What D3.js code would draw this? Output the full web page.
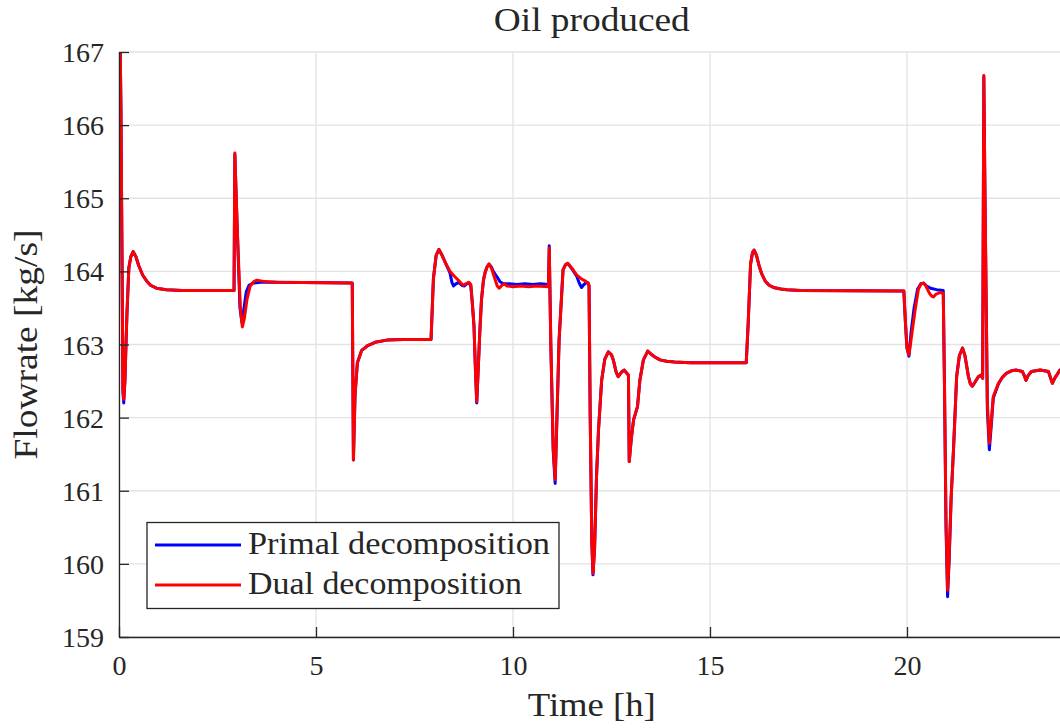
<!DOCTYPE html>
<html>
<head>
<meta charset="utf-8">
<script src="https://cdn.jsdelivr.net/npm/d3@7"></script>
<style>
  html, body { margin: 0; padding: 0; background: #fff; }
  svg text { font-family: "Liberation Serif", "DejaVu Serif", serif; fill: #262626; }
</style>
</head>
<body>
<svg id="chart" width="1060" height="728"></svg>
<script>
// Oil production flowrate over 24 h: primal vs dual decomposition
const xTicks = [0, 5, 10, 15, 20];
const yTicks = [159, 160, 161, 162, 163, 164, 165, 166, 167];
const seriesNames = ["Primal decomposition", "Dual decomposition"];
const seriesColors = ["#0000ff", "#ff0000"];

// [time (h), flowrate (kg/s)]
const dualFlow = [
  [0, 168.5], [0.05, 166.2], [0.1, 162.4], [0.12, 162.25], [0.15, 162.5], [0.2, 163.4], [0.25, 164.05],
  [0.3, 164.2], [0.36, 164.27], [0.43, 164.2], [0.5, 164.08], [0.6, 163.95], [0.7, 163.87], [0.8, 163.81],
  [0.95, 163.77], [1.2, 163.75], [1.6, 163.74], [2.92, 163.74], [2.94, 165.62], [3.0, 164.6], [3.08, 163.5],
  [3.13, 163.24], [3.18, 163.35], [3.25, 163.62], [3.33, 163.8], [3.42, 163.86], [3.5, 163.88], [3.7, 163.86],
  [4.0, 163.85], [5.92, 163.84], [5.95, 161.42], [5.99, 162.3], [6.05, 162.75], [6.16, 162.92], [6.3, 162.98],
  [6.5, 163.03], [6.8, 163.06], [7.2, 163.07], [7.92, 163.07], [7.98, 163.9], [8.05, 164.22], [8.12, 164.3],
  [8.2, 164.22], [8.3, 164.1], [8.4, 164.0], [8.5, 163.94], [8.61, 163.88], [8.68, 163.84], [8.74, 163.81],
  [8.8, 163.83], [8.88, 163.85], [8.93, 163.82], [8.97, 163.55], [9.01, 163.25], [9.05, 162.6], [9.08, 162.22],
  [9.12, 162.7], [9.16, 163.2], [9.2, 163.61], [9.25, 163.88], [9.29, 163.98], [9.34, 164.06], [9.39, 164.1],
  [9.45, 164.05], [9.54, 163.9], [9.6, 163.8], [9.65, 163.77], [9.72, 163.81], [9.78, 163.83], [9.85, 163.8],
  [10.0, 163.79], [10.2, 163.8], [10.4, 163.79], [10.6, 163.8], [10.9, 163.79], [10.92, 164.32], [10.96, 163.0],
  [11.02, 161.6], [11.07, 161.15], [11.11, 161.9], [11.17, 163.06], [11.27, 164.02], [11.33, 164.09],
  [11.39, 164.11], [11.5, 164.04], [11.62, 163.95], [11.73, 163.9], [11.83, 163.87], [11.91, 163.84],
  [11.93, 163.8], [11.96, 162.0], [12.0, 160.3], [12.03, 159.87], [12.07, 160.2], [12.12, 161.2], [12.17, 161.83],
  [12.25, 162.51], [12.33, 162.8], [12.42, 162.9], [12.5, 162.86], [12.55, 162.78], [12.62, 162.62],
  [12.67, 162.56], [12.75, 162.62], [12.82, 162.65], [12.9, 162.6], [12.93, 162.58], [12.95, 161.4],
  [13.0, 161.7], [13.06, 161.97], [13.16, 162.15], [13.22, 162.51], [13.31, 162.79], [13.42, 162.91],
  [13.5, 162.87], [13.6, 162.83], [13.73, 162.79], [13.9, 162.77], [14.1, 162.76], [14.5, 162.75],
  [15.92, 162.75], [15.97, 163.3], [16.03, 164.1], [16.08, 164.26], [16.12, 164.29], [16.18, 164.22],
  [16.25, 164.07], [16.31, 163.97], [16.4, 163.87], [16.5, 163.81], [16.61, 163.78], [16.8, 163.76],
  [16.95, 163.75], [17.3, 163.74], [19.92, 163.73], [19.96, 163.3], [20.0, 162.95], [20.05, 162.86],
  [20.1, 163.05], [20.2, 163.45], [20.29, 163.76], [20.36, 163.83], [20.42, 163.84], [20.48, 163.8],
  [20.57, 163.7], [20.63, 163.66], [20.67, 163.65], [20.74, 163.69], [20.84, 163.71], [20.92, 163.7],
  [20.95, 162.5], [20.99, 160.6], [21.03, 159.64], [21.07, 160.1], [21.12, 160.9], [21.18, 161.56],
  [21.26, 162.56], [21.33, 162.85], [21.41, 162.95], [21.47, 162.85], [21.56, 162.56], [21.61, 162.46],
  [21.66, 162.43], [21.72, 162.48], [21.81, 162.56], [21.87, 162.58], [21.92, 162.54], [21.95, 166.68],
  [21.98, 165.0], [22.04, 162.2], [22.09, 161.65], [22.14, 161.95], [22.19, 162.29], [22.32, 162.47],
  [22.42, 162.55], [22.53, 162.61], [22.65, 162.64], [22.78, 162.65], [22.93, 162.63], [22.98, 162.57],
  [23.02, 162.51], [23.08, 162.58], [23.16, 162.63], [23.38, 162.65], [23.59, 162.63], [23.64, 162.55],
  [23.69, 162.47], [23.75, 162.54], [23.8, 162.58], [23.88, 162.65], [24.0, 162.68]
];

const primalFlow = [
  [0, 168.5], [0.05, 166.2], [0.1, 162.35], [0.12, 162.2], [0.15, 162.5], [0.2, 163.4], [0.25, 164.05],
  [0.3, 164.2], [0.36, 164.27], [0.43, 164.2], [0.5, 164.08], [0.6, 163.95], [0.7, 163.87], [0.8, 163.81],
  [0.95, 163.77], [1.2, 163.75], [1.6, 163.74], [2.92, 163.74], [2.94, 165.6], [3.0, 164.6], [3.07, 163.5],
  [3.12, 163.3], [3.16, 163.45], [3.23, 163.72], [3.3, 163.81], [3.4, 163.84], [3.6, 163.85],
  [4.0, 163.85], [5.92, 163.84], [5.95, 161.42], [5.99, 162.3], [6.05, 162.75], [6.16, 162.92], [6.3, 162.98],
  [6.5, 163.03], [6.8, 163.06], [7.2, 163.07], [7.92, 163.07], [7.98, 163.9], [8.05, 164.22], [8.12, 164.3],
  [8.2, 164.22], [8.3, 164.1], [8.4, 163.98], [8.45, 163.85], [8.49, 163.8], [8.55, 163.83], [8.62, 163.85],
  [8.7, 163.81], [8.76, 163.8], [8.85, 163.84], [8.9, 163.83], [8.93, 163.8], [8.97, 163.55], [9.01, 163.25],
  [9.05, 162.6], [9.08, 162.2], [9.12, 162.7], [9.16, 163.2], [9.2, 163.61], [9.25, 163.88], [9.29, 163.98],
  [9.34, 164.06], [9.39, 164.1], [9.45, 164.06], [9.5, 164.0], [9.6, 163.92], [9.67, 163.86], [9.75, 163.83],
  [9.9, 163.83], [10.1, 163.82], [10.3, 163.83], [10.5, 163.82], [10.7, 163.83], [10.9, 163.82],
  [10.92, 164.35], [10.96, 163.0], [11.02, 161.55], [11.07, 161.1], [11.11, 161.9], [11.17, 163.06],
  [11.27, 164.02], [11.33, 164.09], [11.39, 164.11], [11.5, 164.03], [11.62, 163.93], [11.68, 163.84],
  [11.74, 163.78], [11.8, 163.82], [11.86, 163.85], [11.91, 163.84], [11.93, 163.8], [11.96, 162.0],
  [12.0, 160.3], [12.03, 159.85], [12.07, 160.2], [12.12, 161.2], [12.17, 161.83], [12.25, 162.51],
  [12.33, 162.8], [12.42, 162.9], [12.5, 162.86], [12.55, 162.78], [12.62, 162.62], [12.67, 162.56],
  [12.75, 162.62], [12.82, 162.65], [12.9, 162.6], [12.93, 162.58], [12.95, 161.4], [13.0, 161.7],
  [13.06, 161.97], [13.16, 162.15], [13.22, 162.51], [13.31, 162.79], [13.42, 162.91], [13.5, 162.87],
  [13.6, 162.83], [13.73, 162.79], [13.9, 162.77], [14.1, 162.76], [14.5, 162.75], [15.92, 162.75],
  [15.97, 163.3], [16.03, 164.1], [16.08, 164.26], [16.12, 164.29], [16.18, 164.22], [16.25, 164.07],
  [16.31, 163.97], [16.4, 163.87], [16.5, 163.81], [16.61, 163.78], [16.8, 163.76], [16.95, 163.75],
  [17.3, 163.74], [19.92, 163.73], [19.96, 163.3], [20.0, 162.95], [20.05, 162.84], [20.1, 163.15],
  [20.18, 163.5], [20.27, 163.76], [20.35, 163.83], [20.42, 163.84], [20.5, 163.8], [20.6, 163.77],
  [20.75, 163.75], [20.92, 163.74], [20.95, 162.5], [20.99, 160.5], [21.03, 159.55], [21.07, 160.05],
  [21.12, 160.9], [21.18, 161.56], [21.26, 162.56], [21.33, 162.85], [21.41, 162.95], [21.47, 162.85],
  [21.56, 162.56], [21.61, 162.46], [21.66, 162.43], [21.72, 162.48], [21.81, 162.56], [21.87, 162.58],
  [21.92, 162.54], [21.95, 166.66], [21.98, 165.0], [22.04, 162.1], [22.09, 161.56], [22.14, 161.9],
  [22.19, 162.27], [22.32, 162.46], [22.42, 162.55], [22.53, 162.61], [22.65, 162.64], [22.78, 162.65],
  [22.93, 162.63], [22.98, 162.57], [23.02, 162.51], [23.08, 162.58], [23.16, 162.63], [23.38, 162.65],
  [23.59, 162.63], [23.64, 162.55], [23.69, 162.47], [23.75, 162.54], [23.8, 162.58], [23.88, 162.65],
  [24.0, 162.68]
];

const svg = d3.select("#chart");
const padLeft = 119, padTop = 52, padBottom = 637, plotRight = 1064.6;

const x = d3.scaleLinear().domain([0, 24]).range([padLeft, plotRight]);
const y = d3.scaleLinear().domain([159, 167]).range([padBottom, padTop]);

const axisColor = "#262626";
const gridColor = "#e3e3e3";

// Grid
const grid = svg.append("g");
grid.selectAll("line.gx").data(xTicks).join("line")
  .attr("x1", d => x(d)).attr("x2", d => x(d))
  .attr("y1", padTop).attr("y2", padBottom)
  .attr("stroke", gridColor).attr("stroke-width", 1.3);
grid.selectAll("line.gy").data(yTicks).join("line")
  .attr("x1", padLeft).attr("x2", plotRight)
  .attr("y1", d => y(d)).attr("y2", d => y(d))
  .attr("stroke", gridColor).attr("stroke-width", 1.3);

// Clip region for the data lines
svg.append("defs").append("clipPath").attr("id", "plotClip")
  .append("rect").attr("x", padLeft).attr("y", padTop)
  .attr("width", plotRight - padLeft).attr("height", padBottom - padTop);

const line = d3.line().x(d => x(d[0])).y(d => y(d[1]));
const lines = svg.append("g").attr("clip-path", "url(#plotClip)");
[primalFlow, dualFlow].forEach((series, i) => {
  lines.append("path").datum(series)
    .attr("fill", "none")
    .attr("stroke", seriesColors[i])
    .attr("stroke-width", 3)
    .attr("stroke-linejoin", "round")
    .attr("stroke-linecap", "round")
    .attr("d", line);
});

// Axes with inward ticks
const xAxis = d3.axisBottom(x).tickValues(xTicks).tickSizeInner(-10).tickSizeOuter(0).tickPadding(18);
const yAxis = d3.axisLeft(y).tickValues(yTicks).tickSizeInner(-10).tickSizeOuter(0).tickPadding(15);

const gx = svg.append("g").attr("transform", `translate(0,${padBottom})`).call(xAxis);
const gy = svg.append("g").attr("transform", `translate(${padLeft},0)`).call(yAxis);
[gx, gy].forEach(g => {
  g.select(".domain").attr("stroke", axisColor).attr("stroke-width", 1.3);
  g.selectAll(".tick line").attr("stroke", axisColor).attr("stroke-width", 1.3);
  g.selectAll(".tick text").attr("font-size", 28).attr("fill", axisColor)
    .style("font-family", '"Liberation Serif", serif');
});
gx.selectAll(".tick text").attr("dy", "0.71em");
gy.selectAll(".tick text").attr("dy", "0.34em");

// Titles (stretched to the width of a wider serif face)
const cx = (padLeft + plotRight) / 2;
svg.append("text").attr("x", cx).attr("y", 31)
  .attr("text-anchor", "middle").attr("font-size", 33)
  .attr("textLength", 196).attr("lengthAdjust", "spacingAndGlyphs").text("Oil produced");
svg.append("text").attr("x", cx).attr("y", 716)
  .attr("text-anchor", "middle").attr("font-size", 33)
  .attr("textLength", 128).attr("lengthAdjust", "spacingAndGlyphs").text("Time [h]");
svg.append("text").attr("transform", `translate(37,${(padTop + padBottom) / 2}) rotate(-90)`)
  .attr("text-anchor", "middle").attr("font-size", 33)
  .attr("textLength", 230).attr("lengthAdjust", "spacingAndGlyphs").text("Flowrate [kg/s]");

// Legend
const legend = svg.append("g");
legend.append("rect").attr("x", 147).attr("y", 522.5).attr("width", 412).attr("height", 86)
  .attr("fill", "#fff").attr("stroke", axisColor).attr("stroke-width", 1.3);
const legendWidths = [302, 274];
seriesNames.forEach((name, i) => {
  const ly = 545 + i * 40;
  legend.append("line").attr("x1", 155).attr("x2", 241).attr("y1", ly).attr("y2", ly)
    .attr("stroke", seriesColors[i]).attr("stroke-width", 3);
  legend.append("text").attr("x", 248).attr("y", ly + 9).attr("font-size", 31)
    .attr("textLength", legendWidths[i]).attr("lengthAdjust", "spacingAndGlyphs").text(name);
});
</script>
</body>
</html>
